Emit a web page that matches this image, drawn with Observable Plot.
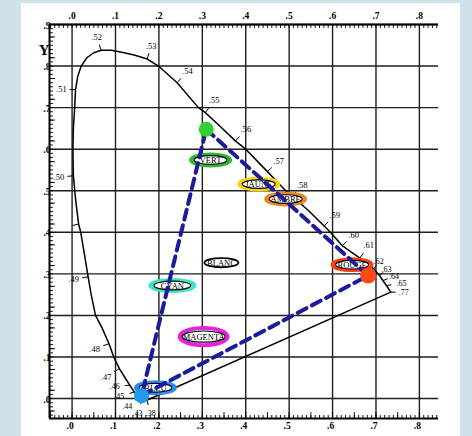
<!DOCTYPE html>
<html><head><meta charset="utf-8">
<script src="https://cdn.jsdelivr.net/npm/d3@7"></script>
<script src="https://cdn.jsdelivr.net/npm/@observablehq/plot@0.6"></script>
<style>
html,body{margin:0;padding:0;background:#cfe2ea;width:472px;height:436px;overflow:hidden;}
#panel{position:absolute;left:21px;top:3px;width:439px;height:433px;background:#fff;}
#panel svg{position:absolute;left:0;top:0;}
</style></head><body><div id="panel"></div>
<script>
// ---- data ----
const gridX = [0, 0.1, 0.2, 0.3, 0.4, 0.5, 0.6, 0.7, 0.8];
const gridY = [0, 0.1, 0.2, 0.3, 0.4, 0.5, 0.6, 0.7, 0.8, 0.9];
const xTickLabels = [".0", ".1", ".2", ".3", ".4", ".5", ".6", ".7", ".8"];
const yTickLabels = [".0", ".1", ".2", ".3", ".4", ".5", ".6", ".7", ".8", ".9"];

// spectral locus (x, y chromaticity)
const locusX = [0.172,0.162,0.155,0.143,0.133,0.122,0.109,0.096,0.085,0.069,0.054,0.044,0.037,0.028,0.020,0.015,0.008,0.003,0.002,0.003,0.006,0.008,0.013,0.021,0.034,0.050,0.067,0.090,0.120,0.145,0.173,0.199,0.242,0.291,0.307,0.342,0.376,0.400,0.450,0.492,0.545,0.595,0.622,0.663,0.695,0.708,0.716,0.724,0.734];
const locusY = [-0.004,-0.002,0.004,0.016,0.032,0.050,0.072,0.100,0.132,0.170,0.200,0.250,0.293,0.350,0.400,0.420,0.480,0.536,0.600,0.650,0.700,0.743,0.775,0.800,0.820,0.832,0.838,0.838,0.832,0.826,0.817,0.800,0.760,0.700,0.688,0.654,0.620,0.600,0.546,0.500,0.452,0.400,0.368,0.338,0.312,0.296,0.284,0.272,0.256];

// wavelength marks (µm) on the locus
const waveLabels = [".38",".43",".44",".45",".46",".47",".48",".49","",".50",".51",".52",".53",".54",".55",".56",".57",".58",".59",".60",".61",".62",".63",".64",".65",".77"];
const waveX = [0.172,0.162,0.155,0.143,0.133,0.109,0.085,0.037,0.015,0.003,0.008,0.067,0.173,0.242,0.307,0.376,0.450,0.507,0.580,0.622,0.663,0.695,0.708,0.716,0.724,0.734];
const waveY = [-0.004,-0.002,0.004,0.016,0.032,0.072,0.132,0.293,0.420,0.536,0.743,0.838,0.817,0.760,0.688,0.620,0.546,0.486,0.415,0.368,0.338,0.312,0.296,0.284,0.272,0.256];

// primaries (triangle corners)
const primaryNames = ["VERT", "ROUGE", "BLEU"];
const primaryX = [0.309, 0.682, 0.160];
const primaryY = [0.648, 0.296, 0.007];

// named colour regions
const colorNames = ["VERT", "JAUNE", "AMBRE", "ROUGE", "BLANC", "CYAN", "MAGENTA", "BLEU"];
const colorX = [0.319, 0.430, 0.492, 0.645, 0.344, 0.231, 0.303, 0.192];
const colorY = [0.574, 0.516, 0.480, 0.322, 0.327, 0.272, 0.149, 0.026];

// ---- styles ----
const ringColor = {VERT:"#2bb82b", JAUNE:"#f7d20c", AMBRE:"#f0841e", ROUGE:"#ff3c12", CYAN:"#3ce6c4", MAGENTA:"#e622dc", BLEU:"#2a8ff0"};
const ringSize = {default:[19.5,5.4], CYAN:[22,5.4], MAGENTA:[24,8.6]};
const innerSize = {default:[16.5,4.3], CYAN:[18.5,4.3], MAGENTA:[21.5,5.6], BLANC:[17,4.6]};
const primaryColor = {VERT:"#30d030", ROUGE:"#ff4814", BLEU:"#1f9bec"};
// label placement overrides for crowded wavelength marks (pixels, y up)
const labelNudge = {".46":[-15,-1], ".45":[-15,-5], ".44":[-12,-10], ".43":[-5,-14], ".38":[4,-13],
                    ".62":[5,7], ".63":[7,6], ".64":[11,4], ".65":[15,2], ".77":[13,0]};

// ---- layout ----
const W = 439, H = 433, mL = 28, mR = 22, mT = 21, mB = 18;
const xDom = [-0.052, 0.844], yDom = [-0.048, 0.9];
const pW = W - mL - mR, pH = H - mT - mB;
const kx = pW / (xDom[1] - xDom[0]), ky = pH / (yDom[1] - yDom[0]);

function ellipse(k) {
  return {draw(ctx, size) {
    const rx = Math.sqrt(size / Math.PI), ry = rx * k, c = 0.5523;
    ctx.moveTo(rx, 0);
    ctx.bezierCurveTo(rx, c * ry, c * rx, ry, 0, ry);
    ctx.bezierCurveTo(-c * rx, ry, -rx, c * ry, -rx, 0);
    ctx.bezierCurveTo(-rx, -c * ry, -c * rx, -ry, 0, -ry);
    ctx.bezierCurveTo(c * rx, -ry, rx, -c * ry, rx, 0);
    ctx.closePath();
  }};
}

// outward normal (pixel space, y up) at each wavelength mark
const white = [0.33, 0.33];
function normalAt(i) {
  const x = waveX[i], y = waveY[i];
  let nx, ny;
  const nudge = labelNudge[waveLabels[i]];
  if (nudge) { nx = nudge[0]; ny = nudge[1]; }
  else if (i === 0 || i === waveX.length - 1) {
    nx = (x - white[0]) * kx; ny = (y - white[1]) * ky;
  } else {
    let best = Infinity, bj = 0;
    for (let j = 0; j < locusX.length - 1; j++) {
      const ax = locusX[j]*kx, ay = locusY[j]*ky, bx = locusX[j+1]*kx, by = locusY[j+1]*ky;
      const px = x*kx, py = y*ky, dx = bx-ax, dy = by-ay;
      let t = ((px-ax)*dx + (py-ay)*dy) / (dx*dx + dy*dy); t = Math.max(0, Math.min(1, t));
      const d = Math.hypot(ax + t*dx - px, ay + t*dy - py);
      if (d < best - 1e-9) { best = d; bj = j; }
    }
    const tx = (locusX[bj+1]-locusX[bj])*kx, ty = (locusY[bj+1]-locusY[bj])*ky;
    nx = -ty; ny = tx;
    if (nx * (x - white[0]) * kx + ny * (y - white[1]) * ky < 0) { nx = -nx; ny = -ny; }
  }
  const n = Math.hypot(nx, ny);
  return [nx / n, ny / n];
}
const waveIdx = waveLabels.map((_, i) => i);
const normals = waveIdx.map(normalAt);
const tickLen = i => (labelNudge[waveLabels[i]] ? 5 : 6);
const labelOffset = i => {
  const nudge = labelNudge[waveLabels[i]];
  if (nudge) return nudge;
  const d = 7 + 7 * Math.abs(normals[i][0]) + 5 * Math.abs(normals[i][1]);
  return [normals[i][0] * d, normals[i][1] * d];
};

const serif = "Liberation Serif, Times New Roman, serif";
const xMinor = d3.range(-5, 85).map(i => i / 100);
const yMinor = d3.range(-4, 90).map(i => i / 100);

const marks = [
  // grid
  Plot.ruleX(gridX, {stroke: "#1e1e1e", strokeWidth: 1.4}),
  Plot.ruleY(gridY, {stroke: "#1e1e1e", strokeWidth: 1.4}),
  // frame lines (top, bottom, left)
  Plot.ruleY([yDom[1]], {stroke: "#000", strokeWidth: 2.2}),
  Plot.ruleY([yDom[0]], {stroke: "#000", strokeWidth: 2}),
  Plot.ruleX([xDom[0]], {stroke: "#000", strokeWidth: 2}),
  // minor ticks
  Plot.ruleX(xMinor, {insetBottom: pH - 4, stroke: "#000", strokeWidth: 0.9}),
  Plot.ruleX(xMinor.filter((d, i) => i % 5 === 0), {insetTop: pH - 6, stroke: "#000", strokeWidth: 0.9}),
  Plot.ruleX(xMinor, {insetTop: pH - 3, stroke: "#000", strokeWidth: 0.9}),
  Plot.ruleY(yMinor, {insetRight: pW - 4, stroke: "#000", strokeWidth: 0.9}),
  Plot.ruleY(yMinor.filter((d, i) => (i + 4) % 5 === 0), {insetRight: pW - 6, stroke: "#000", strokeWidth: 0.9}),
  // tick labels
  Plot.text(gridX, {x: d => d, text: (d, i) => xTickLabels[i], frameAnchor: "top", dy: -9, lineAnchor: "middle", fontSize: 9.5, fontWeight: "bold", fontFamily: serif, fill: "#000"}),
  Plot.text(gridX, {x: d => d, text: (d, i) => xTickLabels[i], frameAnchor: "bottom", dy: 7, dx: -2, lineAnchor: "middle", fontSize: 9.5, fontWeight: "bold", fontFamily: serif, fill: "#000"}),
  Plot.text(gridY, {y: d => d, text: (d, i) => yTickLabels[i], frameAnchor: "left", textAnchor: "end", dx: 1, dy: 1, lineAnchor: "middle", fontSize: 9.5, fontWeight: "bold", fontFamily: serif, fill: "#000"}),
  Plot.text(["Y"], {text: d => d, frameAnchor: "top-left", textAnchor: "end", dx: 0, dy: 26, lineAnchor: "middle", fontSize: 15, fontWeight: "bold", fontFamily: serif, fill: "#000"}),
  // spectral locus + purple line
  Plot.line(locusX.map((_, i) => i), {x: i => locusX[i], y: i => locusY[i], curve: "linear-closed", stroke: "#000", strokeWidth: 1.5}),
  // wavelength ticks
  Plot.link(waveIdx, {
    x1: i => waveX[i], y1: i => waveY[i],
    x2: i => waveX[i] + normals[i][0] * tickLen(i) / kx, y2: i => waveY[i] + normals[i][1] * tickLen(i) / ky,
    stroke: "#000", strokeWidth: 1
  }),
  Plot.text(waveIdx, {
    x: i => waveX[i] + labelOffset(i)[0] / kx, y: i => waveY[i] + labelOffset(i)[1] / ky,
    text: i => waveLabels[i], fontSize: i => (labelNudge[waveLabels[i]] ? 8 : 8.5), fontFamily: serif, fill: "#000", lineAnchor: "middle"
  }),
];

// colour region ellipses
colorNames.forEach((name, i) => {
  if (ringColor[name]) {
    const [rx, ry] = ringSize[name] || ringSize.default;
    marks.push(Plot.dot([i], {x: j => colorX[j], y: j => colorY[j], r: rx, symbol: ellipse(ry / rx), fill: "#fff", stroke: ringColor[name], strokeWidth: 4}));
  }
  const [ix, iy] = innerSize[name] || innerSize.default;
  marks.push(Plot.dot([i], {x: j => colorX[j], y: j => colorY[j], r: ix, symbol: ellipse(iy / ix), fill: "#fff", stroke: "#000", strokeWidth: name === "BLANC" ? 1.8 : 1.2}));
});
marks.push(Plot.text(colorNames.map((_, i) => i), {x: i => colorX[i], y: i => colorY[i], text: i => colorNames[i], fontSize: 8.5, fontFamily: serif, fill: "#000", lineAnchor: "middle", dy: 0.5}));

// dashed gamut triangle and primaries
marks.push(Plot.line([0, 1, 2], {x: i => primaryX[i], y: i => primaryY[i], curve: "linear-closed", stroke: "#1b1b9c", strokeWidth: 4, strokeDasharray: "10,6"}));
marks.push(Plot.dot([0, 1, 2], {x: i => primaryX[i], y: i => primaryY[i], r: i => (i === 1 ? 8 : 7.5), fill: i => primaryColor[primaryNames[i]], stroke: "none"}));

const chart = Plot.plot({
  width: W, height: H,
  marginLeft: mL, marginRight: mR, marginTop: mT, marginBottom: mB,
  x: {domain: xDom, axis: null},
  y: {domain: yDom, axis: null},
  r: {type: "identity"},
  color: {type: "identity"},
  style: {background: "transparent", overflow: "visible"},
  marks
});
document.getElementById("panel").appendChild(chart);
</script></body></html>
